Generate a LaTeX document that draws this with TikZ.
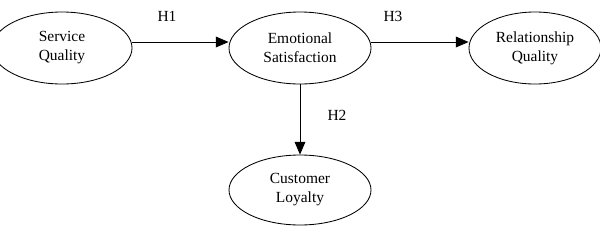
\documentclass[tikz,border=0pt]{standalone}
\usepackage{fontspec}
\setmainfont{Liberation Serif}
\usepackage{tikz}
\usetikzlibrary{arrows.meta,positioning,shapes.geometric}
\tikzset{
  construct/.style={ellipse,draw,line width=0.6pt,inner sep=0pt,
                    minimum height=1.8cm,align=center,
                    font=\fontsize{11}{13.5}\selectfont},
  hypo/.style={-{Triangle[length=3.2mm,width=2.7mm]},line width=0.6pt},
  hlabel/.style={font=\fontsize{11}{13.5}\selectfont},
}

\begin{document}
\begin{tikzpicture}
  \useasboundingbox (0,0) rectangle (15,-5.675);
  \node[construct,minimum width=3.5cm] (sq) at (1.55,-1.2)
    {Service\\Quality};
  \node[construct,minimum width=3.55cm] (es) at (7.5,-1.2)
    {Emotional\\Satisfaction};
  \node[construct,minimum width=3.3cm] (rq) at (13.375,-1.2)
    {Relationship\\Quality};
  \node[construct,minimum width=3.55cm,minimum height=1.75cm] (cl)
    at (7.5,-4.75) {Customer\\Loyalty};
  \draw[hypo] ([yshift=0.15cm]sq.east) -- ([yshift=0.15cm]es.west);
  \draw[hypo] ([yshift=0.15cm]es.east) -- ([yshift=0.15cm]rq.west);
  \draw[hypo] (es) -- (cl);
  \node[hlabel] (h1) at (4.175,-0.4) {H1};
  \node[hlabel] (h3) at (9.825,-0.4) {H3};
  \node[hlabel] (h2) at (8.425,-2.875) {H2};
\end{tikzpicture}
\end{document}
